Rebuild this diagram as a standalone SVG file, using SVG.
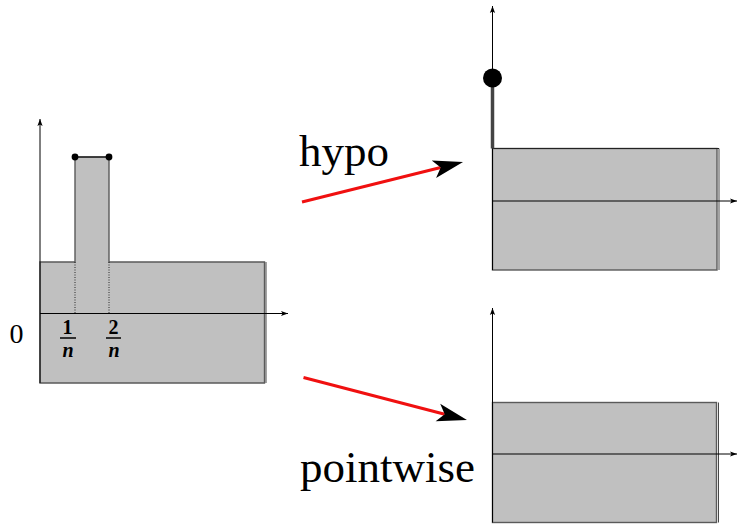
<svg xmlns="http://www.w3.org/2000/svg" width="737" height="524" viewBox="0 0 737 524">
  <style>
    .area { fill: #c0c0c0; stroke: #5a5a5a; stroke-width: 1.4; }
    .edge { fill: none; stroke: #333; stroke-width: 0.9; }
    .axis { fill: none; stroke: #000; stroke-width: 1; marker-end: url(#axhead); }
    .guide { stroke: #000; stroke-width: 0.8; stroke-dasharray: 1 1.5; }
    .dot { fill: #000; }
    .lbl { font-family: "Liberation Serif", "DejaVu Serif", serif; fill: #000; }
    .big { font-size: 45px; }
    .frac { font-size: 20px; font-weight: bold; text-anchor: middle; }
    .flow { fill: none; stroke: #f01010; stroke-width: 3; marker-end: url(#bighead); }
  </style>
  <defs>
    <marker id="axhead" markerUnits="userSpaceOnUse" markerWidth="10" markerHeight="8" viewBox="0 -4 8 8" refX="7" refY="0" orient="auto" overflow="visible">
      <path d="M0,-2.6 L7,0 L0,2.6 L1.6,0 Z" fill="#000"/>
    </marker>
    <marker id="bighead" markerUnits="userSpaceOnUse" markerWidth="32" markerHeight="20" viewBox="0 -10 32 20" refX="7" refY="0" orient="auto" overflow="visible">
      <path d="M0,-9 L30,0 L0,9 L7,0 Z" fill="#000"/>
    </marker>
  </defs>

  <!-- left: plateau with a narrow spike between 1/n and 2/n -->
  <g id="plot-left">
    <path class="area" d="M40,262 H75 V157 H109 V262 H264.5 V383 H40 Z"/>
    <line class="edge" x1="266" y1="262" x2="266" y2="383"/>
    <line class="guide" x1="75" y1="262" x2="75" y2="313"/>
    <line class="guide" x1="109" y1="262" x2="109" y2="313"/>
    <line x1="75" y1="157" x2="109" y2="157" stroke="#000" stroke-width="1.2"/>
    <line class="axis" x1="40" y1="383" x2="40" y2="119"/>
    <line class="axis" x1="40" y1="313.5" x2="288" y2="313.5"/>
    <circle class="dot" cx="75" cy="157" r="3.4"/>
    <circle class="dot" cx="109" cy="157" r="3.4"/>
    <text class="lbl" x="16.5" y="343" font-size="28" text-anchor="middle">0</text>
    <text class="lbl frac" x="67.5" y="334">1</text>
    <line x1="60" y1="338" x2="76" y2="338" stroke="#000" stroke-width="1.5"/>
    <text class="lbl frac" x="68" y="357" font-style="italic">n</text>
    <text class="lbl frac" x="113.5" y="334">2</text>
    <line x1="106" y1="338" x2="121" y2="338" stroke="#000" stroke-width="1.5"/>
    <text class="lbl frac" x="114" y="357" font-style="italic">n</text>
  </g>

  <!-- right top: limit with a point mass at the origin -->
  <g id="plot-hypo">
    <rect class="area" x="492.5" y="148.5" width="224.5" height="121.5"/>
    <line class="edge" x1="719" y1="148.5" x2="719" y2="270"/>
    <line x1="492.5" y1="148.5" x2="719" y2="148.5" stroke="#222" stroke-width="1"/>
    <line class="axis" x1="492.5" y1="270" x2="492.5" y2="6"/>
    <line class="axis" x1="492.5" y1="201" x2="737" y2="201"/>
    <line x1="492.5" y1="78" x2="492.5" y2="148.5" stroke="#444" stroke-width="3.5"/>
    <circle class="dot" cx="492.5" cy="78" r="9.5"/>
  </g>

  <!-- right bottom: pointwise limit -->
  <g id="plot-pointwise">
    <rect class="area" x="492.5" y="402.5" width="224" height="120"/>
    <line class="edge" x1="718.5" y1="402.5" x2="718.5" y2="522.5"/>
    <line class="axis" x1="492.5" y1="522.5" x2="492.5" y2="308"/>
    <line class="axis" x1="492.5" y1="454" x2="737" y2="454"/>
  </g>

  <!-- connectors -->
  <g id="connectors">
    <line class="flow" x1="302" y1="202" x2="440.7" y2="167.5"/>
    <line class="flow" x1="303.5" y1="377.5" x2="444.7" y2="414.3"/>
  </g>

  <g id="labels">
    <text class="lbl big" x="299" y="166">hypo</text>
    <text class="lbl big" x="300" y="482">pointwise</text>
  </g>
</svg>
